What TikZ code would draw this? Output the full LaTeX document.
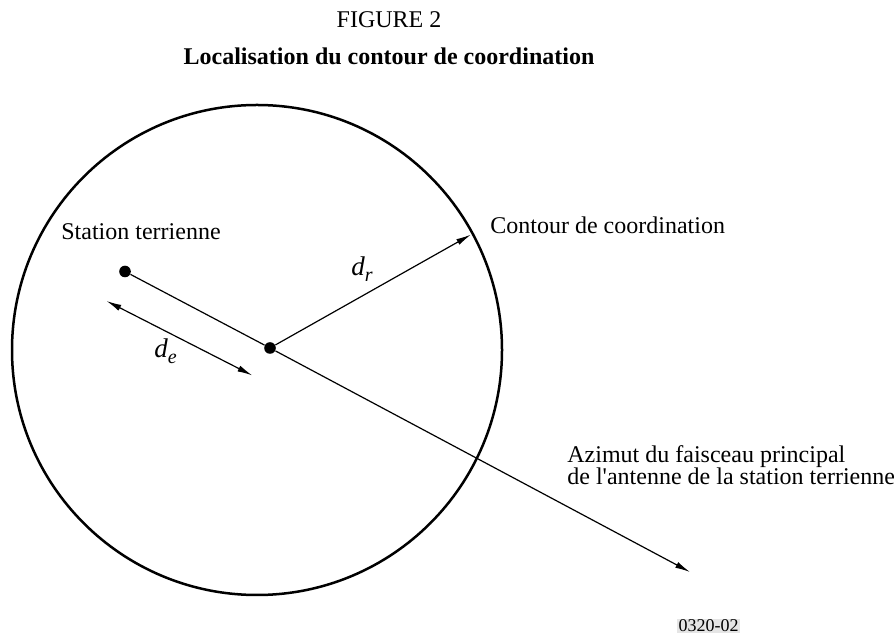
\documentclass[tikz,border=0pt]{standalone}
\usepackage{fontspec}
\setmainfont{Liberation Serif}
\newfontfamily\lblfont{Liberation Serif}
\usetikzlibrary{arrows.meta}
\newcommand{\dist}[1]{\textit{d}\raisebox{-3pt}{\fontsize{10}{10}\selectfont\textit{#1}}}

\begin{document}
\begin{tikzpicture}[x=0.5pt, y=-0.5pt,
	lbl/.style={font=\lblfont\fontsize{12}{11}\selectfont, inner sep=0pt, anchor=base west},
	pnt/.style={circle, fill=black, inner sep=0pt, minimum size=5.8pt},
	fleche/.style={-{Latex[length=7.5pt, width=3.2pt]}, line width=0.6pt}]
	\useasboundingbox (0,0) rectangle (894,635);
	
	\node[lbl, anchor=base] (numfig) at (389,28) {FIGURE 2};
	\node[lbl, anchor=base, font=\lblfont\fontsize{12}{11}\selectfont\bfseries] (titre) at (389,65)
	{Localisation du contour de coordination};
	
	% contour de coordination
	\coordinate (O) at (257,350);
	\draw[line width=1.25pt] (O) circle (245);
	
	\node[pnt] (st) at (125,271.5) {};
	\node[pnt] (ctr) at (270,348) {};
	\coordinate (drtip) at (471,234.6);
	\coordinate (aztip) at (690,572);
	\coordinate (deA) at (106.5,301);
	\coordinate (deB) at (252.3,375.4);
	
	\draw[line width=0.6pt] (st) -- (ctr);
	\draw[fleche] (ctr) -- (aztip);
	\draw[fleche] (ctr) -- (drtip);
	\draw[line width=0.6pt, {Latex[length=7.5pt, width=3.2pt]}-{Latex[length=7.5pt, width=3.2pt]}] (deA) -- (deB);
	
	\node[lbl] (lst) at (61,239.5) {Station terrienne};
	\node[lbl] (lcont) at (490,233.3) {Contour de coordination};
	\node[lbl, font=\lblfont\fontsize{13.5}{12}\selectfont] (ldr) at (351,276) {\dist{r}};
	\node[lbl, font=\lblfont\fontsize{13.5}{12}\selectfont] (lde) at (154,358) {\dist{e}};
	\node[lbl] (laz1) at (567,463) {Azimut du faisceau principal};
	\node[lbl] (laz2) at (567,485) {de l'antenne de la station terrienne};
	
	\node[lbl, font=\lblfont\fontsize{9}{10}\selectfont, fill=black!10, inner sep=0.6pt] (ref) at (677,632) {0320-02};
\end{tikzpicture}
\end{document}
